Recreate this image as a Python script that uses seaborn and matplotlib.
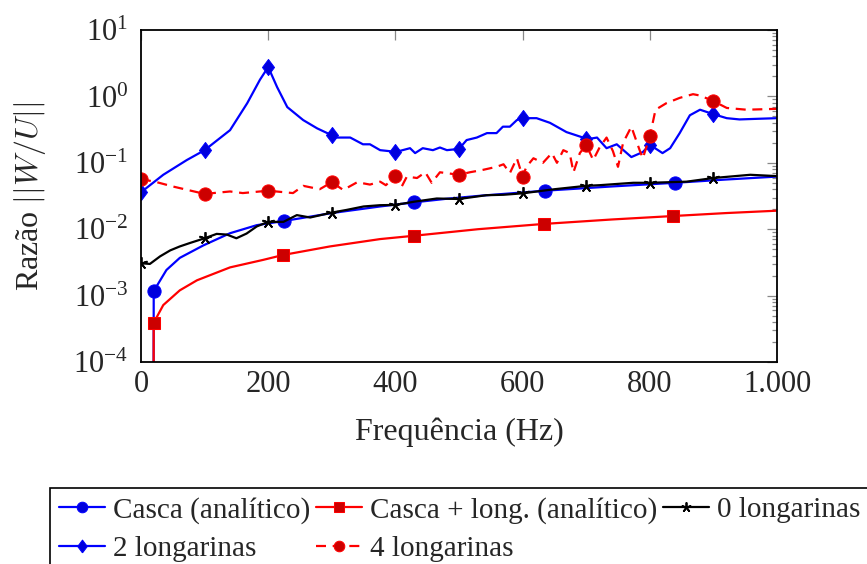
import numpy as np
import pandas as pd
import matplotlib
matplotlib.use("Agg")
import matplotlib.pyplot as plt
import matplotlib.ticker as mticker
import seaborn as sns

# ---------------- data ----------------
casca_f = [19.5, 20, 40, 61, 98, 140, 182, 225, 300, 376, 430, 480, 535, 635, 740, 840, 920, 1000]
casca_v = [1e-6, 1.17e-3, 2.43e-3, 3.7e-3, 5.7e-3, 8.7e-3, 0.0115, 0.0133, 0.0175, 0.022,
           0.0254, 0.0287, 0.032, 0.038, 0.044, 0.050, 0.056, 0.062]
casca_mk = [20, 225, 430, 635, 840]

clong_f = [19.5, 20, 35, 61, 88, 140, 192, 224, 297, 376, 430, 530, 633, 740, 837, 920, 1000]
clong_v = [1e-6, 3.9e-4, 7.2e-4, 1.2e-3, 1.7e-3, 2.66e-3, 3.45e-3, 4.1e-3, 5.5e-3, 7.1e-3,
           7.98e-3, 1.0e-2, 0.012, 0.014, 0.0158, 0.0175, 0.019]
clong_mk = [20, 224, 430, 633, 837]

l0_f = [0, 14, 30, 46, 61, 77, 100, 119, 135, 150, 166, 182, 200, 224, 245, 266, 300, 323,
        350, 376, 400, 430, 465, 500, 543, 570, 600, 650, 700, 721, 774, 800, 858, 900, 958, 1000]
l0_v = [3.07e-3, 3.0e-3, 3.9e-3, 4.8e-3, 5.5e-3, 6.2e-3, 7.3e-3, 8.5e-3, 8.3e-3, 7.3e-3,
        8.6e-3, 0.011, 0.0129, 0.0129, 0.0163, 0.015, 0.0178, 0.0195, 0.022, 0.023, 0.0232,
        0.026, 0.029, 0.0285, 0.0325, 0.033, 0.0347, 0.040, 0.045, 0.046, 0.050, 0.050,
        0.052, 0.059, 0.066, 0.063]
l0_mk = [0, 100, 200, 300, 400, 500, 600, 700, 800, 900]

l2_f = [0, 35, 72, 100, 140, 167, 187, 200, 214, 230, 255, 277, 300, 308, 329, 349, 360, 376,
        390, 400, 423, 431, 443, 459, 470, 481, 500, 512, 528, 544, 559, 569, 580, 591, 600,
        622, 643, 669, 695, 700, 717, 732, 748, 771, 789, 800, 820, 832, 847, 863, 879, 900,
        921, 941, 970, 1000]
l2_v = [0.036, 0.066, 0.11, 0.155, 0.31, 0.79, 1.78, 2.77, 1.38, 0.69, 0.44, 0.33, 0.26, 0.24,
        0.24, 0.19, 0.19, 0.155, 0.15, 0.145, 0.166, 0.14, 0.166, 0.155, 0.17, 0.155, 0.162,
        0.22, 0.24, 0.28, 0.28, 0.35, 0.35, 0.44, 0.47, 0.47, 0.40, 0.29, 0.24, 0.225, 0.24,
        0.166, 0.19, 0.122, 0.145, 0.187, 0.14, 0.166, 0.28, 0.52, 0.63, 0.54, 0.47, 0.45,
        0.46, 0.47]
l2_mk = [0, 100, 200, 300, 400, 500, 600, 700, 800, 900]

l4_f = [0, 25, 50, 100, 140, 160, 200, 239, 255, 281, 300, 318, 340, 360, 376, 385, 400, 410,
        418, 434, 447, 457, 470, 500, 517, 537, 559, 570, 580, 591, 600, 606, 617, 632, 646,
        654, 664, 674, 680, 690, 700, 711, 721, 732, 742, 750, 758, 771, 784, 789, 800, 809,
        826, 847, 868, 879, 900, 921, 952, 1000]
l4_v = [0.057, 0.051, 0.044, 0.034, 0.037, 0.035, 0.038, 0.035, 0.045, 0.040, 0.051, 0.039,
        0.051, 0.047, 0.052, 0.046, 0.063, 0.044, 0.062, 0.059, 0.072, 0.05, 0.072, 0.066,
        0.072, 0.078, 0.087, 0.095, 0.07, 0.117, 0.062, 0.087, 0.117, 0.1, 0.14, 0.1, 0.155,
        0.14, 0.072, 0.14, 0.187, 0.11, 0.17, 0.24, 0.15, 0.087, 0.2, 0.35, 0.155, 0.117,
        0.25, 0.63, 0.79, 0.95, 1.08, 1.03, 0.85, 0.67, 0.63, 0.65]
l4_mk = [0, 100, 200, 300, 400, 500, 600, 700, 800, 900]

labels = ["Casca (analítico)", "Casca + long. (analítico)", "0 longarinas",
          "2 longarinas", "4 longarinas"]
xticks = [0, 200, 400, 600, 800, 1000]
xtick_labels = ["0", "200", "400", "600", "800", "1.000"]

# ---------------- style ----------------
sns.set_theme(style="white")
plt.rcParams["font.serif"] = ["Liberation Serif", "DejaVu Serif"]
plt.rcParams["font.family"] = ["serif"]
plt.rcParams["mathtext.fontset"] = "cm"

W, H = 867, 564
fig = plt.figure(figsize=(W / 100, H / 100), dpi=100)
ax = fig.add_axes([141 / W, 1 - 362 / H, (777 - 141) / W, (362 - 30) / H])


def idx(f, mk):
    f = np.asarray(f, dtype=float)
    return [int(np.argmin(np.abs(f - m))) for m in mk]


diamond = [(0, -1), (0.75, 0), (0, 1), (-0.75, 0), (0, -1)]

series = [
    (casca_f, casca_v, casca_mk, dict(color="blue", marker="o", ms=9.5, mfc="#0000dd", mec="blue")),
    (clong_f, clong_v, clong_mk, dict(color="red", marker="s", ms=8.5, mfc="#cc0000", mec="red")),
    (l0_f, l0_v, l0_mk, dict(color="black", marker=(5, 2), ms=9, mfc="black", mec="black", mew=1.3)),
    (l2_f, l2_v, l2_mk, dict(color="blue", marker=diamond, ms=11.5, mfc="#0000dd", mec="blue")),
    (l4_f, l4_v, l4_mk, dict(color="red", marker="o", ms=9.5, mfc="#cc0000", mec="red",
                             dashes=(4.5, 3.0))),
]

handles = []
for (f, v, mk, kw), lab in zip(series, labels):
    df = pd.DataFrame({"f": f, "v": v})
    sns.lineplot(data=df, x="f", y="v", ax=ax, estimator=None, sort=False,
                 lw=1.6, markevery=idx(f, mk), label=lab, legend=False, **kw)
    handles.append(ax.lines[-1])

ax.set_yscale("log")
ax.set_xlim(0, 1000)
ax.set_ylim(1e-4, 1e1)
ax.set_xticks(xticks)
ax.set_xticklabels(xtick_labels)
ax.yaxis.set_major_locator(mticker.LogLocator(base=10, numticks=10))
ax.yaxis.set_minor_locator(mticker.LogLocator(base=10, subs=np.arange(2, 10), numticks=20))
ax.yaxis.set_minor_formatter(mticker.NullFormatter())

ax.tick_params(which="both", direction="in", top=True, right=True, color="#888888",
               width=0.9, labelsize=22)
ax.tick_params(which="major", length=7.5)
ax.tick_params(which="minor", length=3.8)
ax.tick_params(axis="x", pad=6)
ax.tick_params(axis="y", pad=9)
for s in ax.spines.values():
    s.set_color("black")
    s.set_linewidth(1.3)

ax.set_xlabel("Frequência (Hz)", fontsize=23, labelpad=13)
ax.set_ylabel(r"Razão $||W/U||$", fontsize=23, labelpad=18)

order = [0, 3, 1, 4, 2]
leg = fig.legend([handles[i] for i in order], [labels[i] for i in order],
                 loc="upper left", bbox_to_anchor=(50 / W, 1 - 488 / H),
                 bbox_transform=fig.transFigure, ncol=3, frameon=True, fancybox=False,
                 edgecolor="black", framealpha=1, fontsize=21, borderpad=0.3,
                 handlelength=1.6, handletextpad=0.25, columnspacing=0.2,
                 labelspacing=0.4, borderaxespad=0, markerscale=0.8)
leg.get_frame().set_linewidth(1.2)

fig.savefig("out.png", dpi=100)
